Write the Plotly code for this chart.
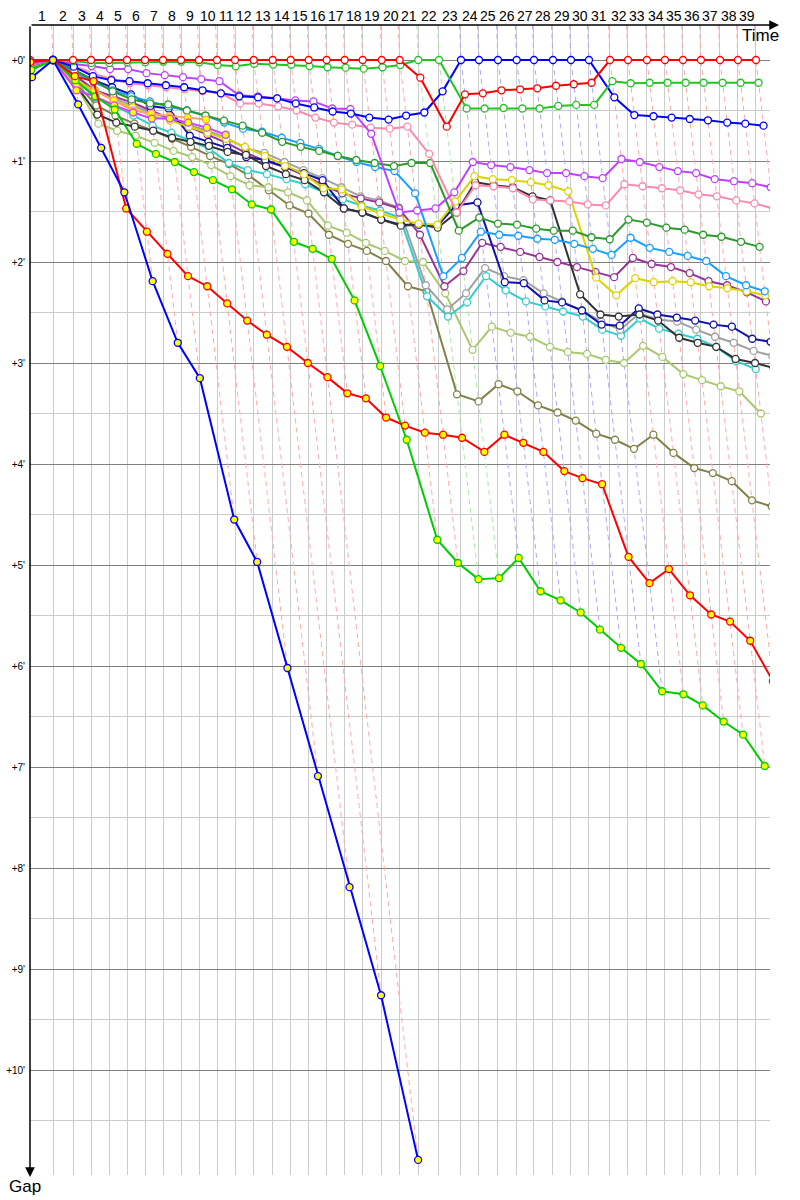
import plotly.graph_objects as go

# ---------------- data ----------------
# leader lap times (seconds), laps 1..39
lap_times_s = [118, 102.6, 92.3, 92.3, 92.3, 92.3, 92.3, 92.3, 92.3, 92.3,
               92.3, 95.9, 97.4, 92.3, 92.3, 92.3, 92.3, 92.3, 97.4, 92.3,
               95.4, 106.2, 112.8, 92.3, 97.4, 95.9, 88.7, 97.4, 92.3, 92.3,
               107.7, 92.3, 97.4, 92.3, 92.3, 92.3, 97.4, 92.3, 92.3]
lap_labels = [str(i) for i in range(1, 40)]

# gaps to leader (minutes), index = lap (0 = start)
red_car = [0, 0, 0, 0, 0, 0, 0, 0, 0, 0,
           0, 0, 0, 0, 0, 0, 0, 0, 0, 0,
           0, 0.175, 0.66, 0.34, 0.33, 0.30, 0.29, 0.28, 0.255, 0.24,
           0.225, 0, 0, 0, 0, 0, 0, 0, 0, 0]
green_car = [0.01, 0, 0.01, 0.03, 0.03, 0.023, 0.023, 0.017, 0.017, 0.023,
             0.05, 0.063, 0.037, 0.045, 0.047, 0.06, 0.072, 0.076, 0.086, 0.072,
             0.05, 0, 0, 0.48, 0.48, 0.475, 0.48, 0.48, 0.455, 0.445,
             0.445, 0.21, 0.23, 0.225, 0.225, 0.225, 0.225, 0.225, 0.225, 0.225]
blue_car = [0.05, 0, 0.066, 0.16, 0.20, 0.21, 0.23, 0.25, 0.27, 0.30,
            0.33, 0.36, 0.37, 0.38, 0.43, 0.47, 0.51, 0.53, 0.57, 0.59,
            0.55, 0.52, 0.31, 0, 0, 0, 0, 0, 0, 0,
            0, 0.37, 0.545, 0.557, 0.57, 0.584, 0.597, 0.62, 0.63, 0.65]
violet_car = [0.02, 0, 0.04, 0.06, 0.09, 0.09, 0.13, 0.15, 0.17, 0.19,
              0.21, 0.35, 0.36, 0.38, 0.40, 0.41, 0.48, 0.485, 0.73, 1.51,
              1.49, 1.47, 1.31, 1.01, 1.04, 1.06, 1.09, 1.12, 1.12, 1.15,
              1.17, 0.98, 1.01, 1.06, 1.10, 1.12, 1.18, 1.20, 1.22, 1.26]
pink_car = [0.03, 0, 0.06, 0.13, 0.19, 0.23, 0.25, 0.27, 0.29, 0.31,
            0.33, 0.43, 0.43, 0.46, 0.50, 0.57, 0.62, 0.64, 0.67, 0.68,
            0.66, 0.93, 1.51, 1.24, 1.25, 1.27, 1.38, 1.39, 1.40, 1.43,
            1.44, 1.23, 1.25, 1.27, 1.29, 1.33, 1.35, 1.39, 1.42, 1.47]
darkgreen_car = [0.05, 0, 0.1, 0.2, 0.31, 0.39, 0.43, 0.44, 0.50, 0.55,
                 0.60, 0.65, 0.72, 0.81, 0.86, 0.90, 0.95, 0.99, 1.02, 1.05,
                 1.02, 1.02, 1.69, 1.56, 1.62, 1.63, 1.67, 1.69, 1.69, 1.755,
                 1.775, 1.58, 1.61, 1.66, 1.68, 1.73, 1.75, 1.80, 1.85]
dodger_car = [0.06, 0, 0.12, 0.22, 0.30, 0.36, 0.41, 0.46, 0.50, 0.55,
              0.62, 0.68, 0.71, 0.77, 0.82, 0.88, 0.95, 1.01, 1.06, 1.10,
              1.32, 2.14, 1.96, 1.70, 1.73, 1.74, 1.77, 1.78, 1.82, 1.87,
              1.93, 1.76, 1.86, 1.90, 1.94, 1.99, 2.14, 2.23, 2.29]
yellow_car = [0.07, 0, 0.2, 0.3, 0.4, 0.47, 0.55, 0.6, 0.66, 0.72,
              0.78, 0.86, 0.95, 1.05, 1.13, 1.27, 1.28, 1.45, 1.52, 1.58,
              1.62, 1.63, 1.40, 1.15, 1.18, 1.19, 1.21, 1.24, 1.30, 2.155,
              2.33, 2.16, 2.20, 2.19, 2.20, 2.24, 2.26, 2.29, 2.33]
black_car = [0.08, 0, 0.25, 0.54, 0.62, 0.66, 0.70, 0.77, 0.81, 0.85,
             0.91, 0.94, 1.05, 1.13, 1.19, 1.31, 1.47, 1.51, 1.58, 1.64,
             1.63, 1.66, 1.51, 1.21, 1.24, 1.26, 1.35, 1.39, 2.32, 2.52,
             2.54, 2.52, 2.58, 2.75, 2.80, 2.84, 2.96, 3.00, 3.05]
navy_car = [0.05, 0, 0.1, 0.2, 0.27, 0.34, 0.455, 0.48, 0.75, 0.81,
            0.87, 0.96, 0.99, 1.06, 1.12, 1.19, 1.47, 1.51, 1.58, 1.63,
            1.63, 1.64, 1.44, 1.41, 2.20, 2.21, 2.38, 2.40, 2.48, 2.62,
            2.63, 2.46, 2.52, 2.55, 2.58, 2.62, 2.64, 2.76, 2.79]
gray_car = [0.06, 0, 0.15, 0.3, 0.38, 0.45, 0.52, 0.58, 0.64, 0.70,
            0.77, 0.87, 0.92, 1.01, 1.09, 1.17, 1.26, 1.35, 1.39, 1.46,
            2.23, 2.47, 2.31, 2.06, 2.14, 2.18, 2.31, 2.39, 2.48, 2.59,
            2.67, 2.51, 2.57, 2.59, 2.67, 2.74, 2.80, 2.88, 2.93]
purple_car = [0.05, 0, 0.15, 0.3, 0.36, 0.42, 0.5, 0.58, 0.66, 0.74,
              0.82, 0.92, 1.0, 1.06, 1.14, 1.24, 1.32, 1.37, 1.41, 1.47,
              1.73, 2.24, 2.09, 1.81, 1.85, 1.90, 1.95, 2.0, 2.05, 2.10,
              2.15, 1.96, 2.02, 2.05, 2.11, 2.19, 2.23, 2.30, 2.39]
cyan_car = [0.06, 0, 0.2, 0.37, 0.45, 0.55, 0.65, 0.72, 0.80, 0.88,
            1.02, 1.09, 1.13, 1.18, 1.23, 1.31, 1.38, 1.44, 1.49, 1.56,
            2.34, 2.54, 2.40, 2.14, 2.28, 2.39, 2.44, 2.49, 2.54, 2.67,
            2.73, 2.56, 2.66, 2.71, 2.76, 2.84, 2.98, 3.06]
lightolive_car = [0.08, 0, 0.25, 0.63, 0.70, 0.75, 0.82, 0.90, 0.96, 1.04,
                  1.15, 1.24, 1.26, 1.31, 1.39, 1.64, 1.71, 1.81, 1.89, 1.99,
                  2.00, 2.31, 2.87, 2.64, 2.70, 2.74, 2.84, 2.89, 2.91, 2.97,
                  3.00, 2.83, 2.94, 3.11, 3.17, 3.23, 3.28, 3.50]
olive_car = [0.07, 0, 0.22, 0.45, 0.55, 0.63, 0.70, 0.78, 0.86, 0.95,
             1.03, 1.14, 1.29, 1.44, 1.52, 1.73, 1.82, 1.89, 1.99, 2.24,
             2.29, 3.31, 3.38, 3.21, 3.28, 3.42, 3.49, 3.57, 3.70, 3.76,
             3.85, 3.71, 3.89, 4.04, 4.09, 4.17, 4.36, 4.42]
orange_y_car = [0.05, 0, 0.25, 0.30, 0.40, 0.50, 0.53, 0.555, 0.57, 0.59]
violet_y_car = [0.04, 0, 0.30, 0.36, 0.45, 0.52, 0.58, 0.58, 0.62, 0.67, 0.74]
lime_y_car = [0.1, 0, 0.2, 0.36, 0.49, 0.83, 0.93, 1.01, 1.11, 1.19,
              1.28, 1.43, 1.48, 1.80, 1.87, 1.97, 2.38, 3.03, 3.76, 4.75,
              4.98, 5.14, 5.13, 4.93, 5.26, 5.35, 5.47, 5.64, 5.82, 5.98,
              6.25, 6.28, 6.39, 6.55, 6.68, 6.99]
red_y_car = [0.02, 0, 0.16, 0.21, 1.47, 1.70, 1.92, 2.14, 2.24, 2.41,
             2.58, 2.72, 2.84, 3.0, 3.14, 3.30, 3.35, 3.54, 3.62, 3.69,
             3.71, 3.74, 3.88, 3.71, 3.79, 3.88, 4.07, 4.14, 4.20, 4.92,
             5.18, 5.04, 5.30, 5.49, 5.56, 5.75, 6.15]
blue_y_car = [0.17, 0, 0.44, 0.87, 1.31, 2.19, 2.80, 3.15, 4.55, 4.97,
              6.02, 7.09, 8.19, 9.26, 10.89]

# ---------------- styles ----------------
cars = [
    (olive_car, '#808048', 'white'),
    (lightolive_car, '#a8c870', 'white'),
    (cyan_car, '#33cccc', 'white'),
    (gray_car, '#a0a0a0', 'white'),
    (purple_car, '#993399', 'white'),
    (navy_car, '#1010aa', 'white'),
    (black_car, '#333333', 'white'),
    (yellow_car, '#dcd400', 'white'),
    (dodger_car, '#1a9fff', 'white'),
    (darkgreen_car, '#2a9a2a', 'white'),
    (pink_car, '#ff88aa', 'white'),
    (violet_car, '#c040ff', 'white'),
    (blue_car, '#0000ff', 'white'),
    (green_car, '#22c422', 'white'),
    (red_car, '#ff0000', 'white'),
    (orange_y_car, '#ffa070', '#ffff00'),
    (violet_y_car, '#cc44ff', '#ffff00'),
    (lime_y_car, '#00cc00', '#ffff00'),
    (red_y_car, '#ff0000', '#ffff00'),
    (blue_y_car, '#0000ff', '#ffff00'),
]
light = {'#ff0000': '#ffaaaa', '#22c422': '#aae8aa', '#0000ff': '#aaaaff'}
FONT = 'Liberation Sans, Arial, sans-serif'

# leader crossing times (minutes)
T = [0.0]
for t in lap_times_s:
    T.append(T[-1] + t / 60.0)

PX_PER_MIN_X = 11.7
X0, X1 = 30, 770
Y_TOP, Y_BOT = 25, 1175
PX_PER_MIN_Y = 101.0
Y_ZERO = 60
x_range = [0, (X1 - X0) / PX_PER_MIN_X]
y_range = [(Y_BOT - Y_ZERO) / PX_PER_MIN_Y, (Y_TOP - Y_ZERO) / PX_PER_MIN_Y]

fig = go.Figure()

# lap lines (dashed), coloured after the leader of that lap
dash = {}
for lap in range(1, len(T)):
    gaps = [(g[lap], col) for g, col, _ in cars if lap < len(g) and g[lap] is not None]
    if not gaps:
        continue
    gmax = max(g for g, _ in gaps)
    leader_col = min(gaps, key=lambda a: a[0])[1]
    c = light.get(leader_col, '#ffaaaa')
    xs, ys = dash.setdefault(c, ([], []))
    xs += [T[lap] - 0.12, T[lap], T[lap] + gmax, None]
    ys += [y_range[1], 0, gmax, None]
for c, (xs, ys) in dash.items():
    fig.add_trace(go.Scatter(x=xs, y=ys, mode='lines', hoverinfo='skip',
                             line=dict(color=c, width=1, dash='5px,4px')))

for g, col, fill in cars:
    xs = [T[i] + v for i, v in enumerate(g)]
    fig.add_trace(go.Scatter(
        x=xs, y=g, mode='lines+markers',
        line=dict(color=col, width=2),
        marker=dict(symbol='circle', size=7, color=fill,
                    line=dict(color=col, width=1.3))))

# lap labels on top
for i, lab in enumerate(lap_labels):
    xm = (T[i] + T[i + 1]) / 2
    fig.add_annotation(x=xm, y=1, xref='x', yref='paper', text=lab,
                       showarrow=False, xanchor='center', yanchor='bottom', yshift=-1,
                       font=dict(size=14, color='black', family=FONT))

W, H = 800, 1200
pw = X1 - X0
ph = Y_BOT - Y_TOP


def px(xp):
    return (xp - X0) / pw


def py(yp):
    return (Y_BOT - yp) / ph


# axes with arrows
fig.add_annotation(x=px(779), y=py(25), xref='paper', yref='paper',
                   ax=-(779 - 30), ay=0, showarrow=True, arrowhead=2,
                   arrowsize=1.3, arrowwidth=1.5, arrowcolor='black', text='')
fig.add_annotation(x=px(30), y=py(1177), xref='paper', yref='paper',
                   ax=0, ay=-(1177 - 25), showarrow=True, arrowhead=2,
                   arrowsize=1.3, arrowwidth=1.5, arrowcolor='black', text='')
fig.add_annotation(x=px(760), y=py(36), xref='paper', yref='paper', text='Time',
                   showarrow=False, xanchor='center', yanchor='middle',
                   font=dict(size=17, color='black', family=FONT))
fig.add_annotation(x=px(25), y=py(1186), xref='paper', yref='paper', text='Gap',
                   showarrow=False, xanchor='center', yanchor='middle',
                   font=dict(size=17, color='black', family=FONT))

fig.update_layout(
    width=W, height=H,
    margin=dict(l=X0, r=W - X1, t=Y_TOP, b=H - Y_BOT, autoexpand=False),
    paper_bgcolor='white', plot_bgcolor='white',
    showlegend=False,
    xaxis=dict(range=x_range, tickmode='array', tickvals=T[1:], automargin=False,
               showticklabels=False, ticks='', showgrid=True,
               gridcolor='#cccccc', gridwidth=1, zeroline=False, showline=False),
    yaxis=dict(range=y_range, tickmode='array', tickvals=list(range(0, 11)),
               ticktext=["+%d'" % i for i in range(0, 11)], ticks='',
               ticklabelstandoff=4, automargin=False,
               showgrid=True, gridcolor='#808080', gridwidth=1, zeroline=False,
               showline=False, tickfont=dict(size=10, color='black', family=FONT),
               minor=dict(tickmode='array', tickvals=[i + 0.5 for i in range(0, 11)],
                          showgrid=True, gridcolor='#cccccc', gridwidth=1, ticks='')),
)

fig.write_html('out.html', config={'displayModeBar': False},
               post_script="document.body.style.margin='0';"
                           "document.body.style.padding='0';"
                           "document.body.style.overflow='hidden';")
